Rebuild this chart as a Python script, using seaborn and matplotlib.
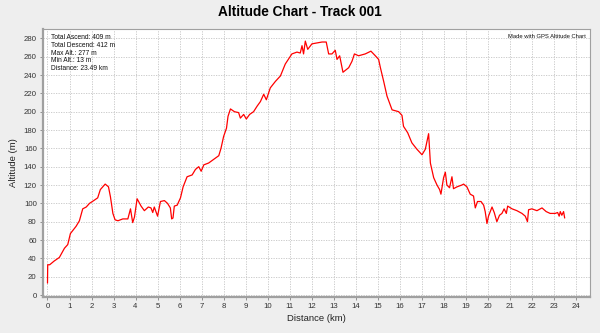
import numpy as np
import pandas as pd
import seaborn as sns
import matplotlib.pyplot as plt

# Track profile
distance_km = [
    0.00, 0.01, 0.10, 0.30, 0.54, 0.77, 0.92, 1.04, 1.30, 1.45, 1.60, 1.76, 1.91,
    2.10, 2.28, 2.40, 2.62, 2.77, 2.86, 2.97, 3.07, 3.20, 3.42, 3.65, 3.77, 3.87,
    3.95, 4.07, 4.25, 4.40, 4.58, 4.70, 4.78, 4.85, 5.00, 5.13, 5.31, 5.45, 5.58,
    5.64, 5.70, 5.76, 5.89, 6.04, 6.16, 6.34, 6.57, 6.72, 6.87, 6.98, 7.10, 7.32,
    7.55, 7.78, 7.88, 8.00, 8.13, 8.20, 8.31, 8.49, 8.68, 8.76, 8.91, 9.03, 9.18,
    9.36, 9.52, 9.67, 9.82, 9.94, 10.05, 10.12, 10.35, 10.58, 10.80, 11.10, 11.33,
    11.48, 11.56, 11.63, 11.71, 11.82, 12.01, 12.24, 12.47, 12.66, 12.77, 12.92,
    13.07, 13.15, 13.27, 13.42, 13.68, 13.83, 13.94, 14.13, 14.43, 14.69, 14.89,
    15.04, 15.12, 15.27, 15.42, 15.65, 15.95, 16.10, 16.17, 16.36, 16.55, 16.78,
    17.01, 17.16, 17.31, 17.39, 17.54, 17.69, 17.81, 17.87, 17.99, 18.07, 18.14,
    18.26, 18.37, 18.44, 18.60, 18.82, 18.90, 19.05, 19.20, 19.35, 19.43, 19.53,
    19.69, 19.81, 19.88, 19.96, 20.03, 20.19, 20.29, 20.41, 20.53, 20.64, 20.74,
    20.84, 20.90, 21.10, 21.32, 21.55, 21.70, 21.80, 21.85, 22.00, 22.23, 22.46,
    22.65, 22.83, 23.06, 23.17, 23.24, 23.29, 23.36, 23.44, 23.49,
]
altitude_m = [
    13, 33, 33, 37, 41, 51, 55, 67, 75, 81, 94, 96, 100,
    103, 106, 115, 121, 118, 107, 89, 82, 81, 83, 83, 94, 79,
    85, 105, 97, 92, 96, 95, 90, 96, 86, 102, 103, 100, 95,
    83, 84, 97, 98, 106, 118, 129, 131, 137, 140, 135, 142, 144,
    148, 152, 160, 173, 182, 195, 203, 200, 199, 193, 197, 192, 197,
    200, 206, 211, 219, 213, 221, 226, 233, 239, 252, 263, 265,
    264, 272, 263, 277, 268, 274, 275, 276, 276, 263, 263,
    267, 257, 261, 243, 248, 255, 263, 261, 263, 266, 261,
    257, 248, 233, 217, 202, 200, 196, 184, 177, 166, 159,
    153, 159, 176, 144, 128, 120, 115, 110, 128, 134, 120,
    117, 129, 116, 118, 120, 121, 118, 110, 108, 95, 102,
    102, 98, 91, 78, 86, 96, 90, 80, 87, 89, 94,
    89, 97, 94, 92, 89, 86, 80, 93, 94, 92, 95,
    91, 89, 89, 90, 86, 91, 87, 91, 84,
]

stats_lines = [
    "Total Ascend: 409 m",
    "Total Descend: 412 m",
    "Max Alt.: 277 m",
    "Min Alt.: 13 m",
    "Distance: 23.49 km",
]
x_ticks = list(range(0, 25))
y_ticks = list(range(0, 281, 20))

track = pd.DataFrame({"Distance": distance_km, "Altitude": altitude_m})

sns.set_theme(style="white")
plt.rcParams["font.family"] = ["Liberation Sans", "DejaVu Sans"]

fig = plt.figure(figsize=(6, 3.33), dpi=100, facecolor="#eeeeee")
ax = fig.add_axes([43 / 600, 1 - 297 / 333, 547 / 600, 268 / 333])
ax.set_facecolor("white")

sns.lineplot(data=track, x="Distance", y="Altitude", color="#ff0000",
             linewidth=0.9, ax=ax, sort=False)

ax.set_xlim(-0.204, 24.64)
ax.set_ylim(-2.18, 290.2)
ax.set_xticks(x_ticks)
ax.set_yticks(y_ticks)
ax.grid(True, color="#c4c4c4", linestyle=(0, (1.5, 1.5)), linewidth=0.6)

for side in ["top", "right", "left", "bottom"]:
    ax.spines[side].set_color("#a0a0a0")
    ax.spines[side].set_linewidth(0.8)
ax.spines["left"].set_linewidth(1.6)
ax.spines["bottom"].set_linewidth(1.6)

ax.tick_params(axis="both", which="major", direction="out", length=2.5,
               width=0.6, color="#808080", labelsize=5.6, labelcolor="#333333",
               pad=2, left=True, bottom=True)

ax.set_xlabel("Distance (km)", fontsize=6.8, color="#222222", labelpad=3)
ax.set_ylabel("Altitude (m)", fontsize=6.8, color="#222222", labelpad=4)

fig.text(0.5, 1 - 12 / 333, "Altitude Chart - Track 001", ha="center",
         va="center", fontsize=9.8, fontweight="bold", color="black")

ax.text(0.014, 0.98, "\n".join(stats_lines), transform=ax.transAxes,
        ha="left", va="top", fontsize=4.8, linespacing=1.12, color="#111111")
ax.text(0.993, 0.98, "Made with GPS Altitude Chart", transform=ax.transAxes,
        ha="right", va="top", fontsize=4.2, color="#111111")

fig.savefig("out.png", dpi=100, facecolor=fig.get_facecolor())
plt.close(fig)
